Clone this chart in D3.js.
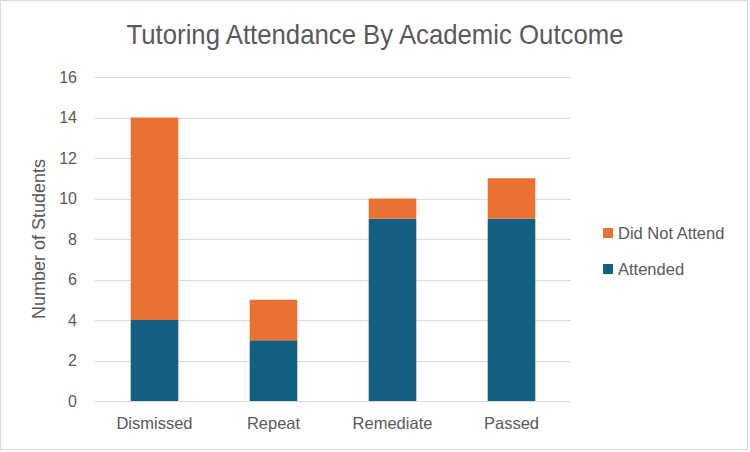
<!DOCTYPE html>
<html>
<head>
<meta charset="utf-8">
<script src="https://cdn.jsdelivr.net/npm/d3@7"></script>
<style>
  body { margin: 0; background: #fff; }
  svg { display: block; }
</style>
</head>
<body>
<div class="chart"></div>
<script>
const categories = ["Dismissed", "Repeat", "Remediate", "Passed"];
const attended = [4, 3, 9, 9];
const didNotAttend = [10, 2, 1, 2];
const seriesNames = ["Attended", "Did Not Attend"];
const yTicks = [0, 2, 4, 6, 8, 10, 12, 14, 16];

const colors = { "Attended": "#156082", "Did Not Attend": "#E97132" };

const W = 750, H = 452;
const margin = { top: 77, right: 179, bottom: 51, left: 95 };
const font = "Liberation Sans, Arial, sans-serif";
const textColor = "#595959";

const rows = categories.map((c, i) => ({ cat: c, "Attended": attended[i], "Did Not Attend": didNotAttend[i] }));
const stacked = d3.stack().keys(seriesNames)(rows);

const svg = d3.select(".chart").append("svg").attr("width", W).attr("height", H);

svg.append("rect")
  .attr("x", 0.5).attr("y", 0.5).attr("width", W - 3).attr("height", H - 3)
  .attr("fill", "#fff").attr("stroke", "#d9d9d9");

const x = d3.scaleBand()
  .domain(categories)
  .range([margin.left, W - margin.right])
  .paddingInner(0.6)
  .paddingOuter(0.3);

const y = d3.scaleLinear().domain([0, 16]).range([H - margin.bottom, margin.top]);

// gridlines
svg.append("g")
  .selectAll("line")
  .data(yTicks)
  .join("line")
  .attr("x1", margin.left).attr("x2", W - margin.right)
  .attr("y1", d => Math.round(y(d)) + 0.5).attr("y2", d => Math.round(y(d)) + 0.5)
  .attr("stroke", "#d9d9d9").attr("stroke-width", 1);

// bars
svg.append("g")
  .selectAll("g")
  .data(stacked)
  .join("g")
  .attr("fill", d => colors[d.key])
  .selectAll("rect")
  .data(d => d)
  .join("rect")
  .attr("x", d => x(d.data.cat))
  .attr("width", x.bandwidth())
  .attr("y", d => y(d[1]))
  .attr("height", d => y(d[0]) - y(d[1]));

// y tick labels
svg.append("g")
  .selectAll("text")
  .data(yTicks)
  .join("text")
  .attr("x", 77)
  .attr("y", d => y(d))
  .attr("dy", "0.35em")
  .attr("text-anchor", "end")
  .attr("font-family", font)
  .attr("font-size", 16)
  .attr("fill", textColor)
  .text(d => d);

// x labels
svg.append("g")
  .selectAll("text")
  .data(categories)
  .join("text")
  .attr("x", d => x(d) + x.bandwidth() / 2)
  .attr("y", 429)
  .attr("text-anchor", "middle")
  .attr("font-family", font)
  .attr("font-size", 16.5)
  .attr("fill", textColor)
  .text(d => d);

// axis title
svg.append("text")
  .attr("transform", `translate(45, ${(y(0) + y(16)) / 2}) rotate(-90)`)
  .attr("text-anchor", "middle")
  .attr("font-family", font)
  .attr("font-size", 18)
  .attr("fill", textColor)
  .text("Number of Students");

// title
svg.append("text")
  .attr("x", W / 2)
  .attr("y", 44)
  .attr("text-anchor", "middle")
  .attr("font-family", font)
  .attr("font-size", 28)
  .attr("textLength", 497)
  .attr("lengthAdjust", "spacingAndGlyphs")
  .attr("fill", textColor)
  .text("Tutoring Attendance By Academic Outcome");

// legend
const legendItems = ["Did Not Attend", "Attended"];
const legend = svg.append("g")
  .selectAll("g")
  .data(legendItems)
  .join("g")
  .attr("transform", (d, i) => `translate(603, ${233 + i * 36})`);

legend.append("rect")
  .attr("x", 0).attr("y", -5).attr("width", 10).attr("height", 10)
  .attr("fill", d => colors[d]);

legend.append("text")
  .attr("x", 15)
  .attr("y", 0)
  .attr("dy", "0.35em")
  .attr("font-family", font)
  .attr("font-size", 16.5)
  .attr("fill", textColor)
  .text(d => d);
</script>
</body>
</html>
